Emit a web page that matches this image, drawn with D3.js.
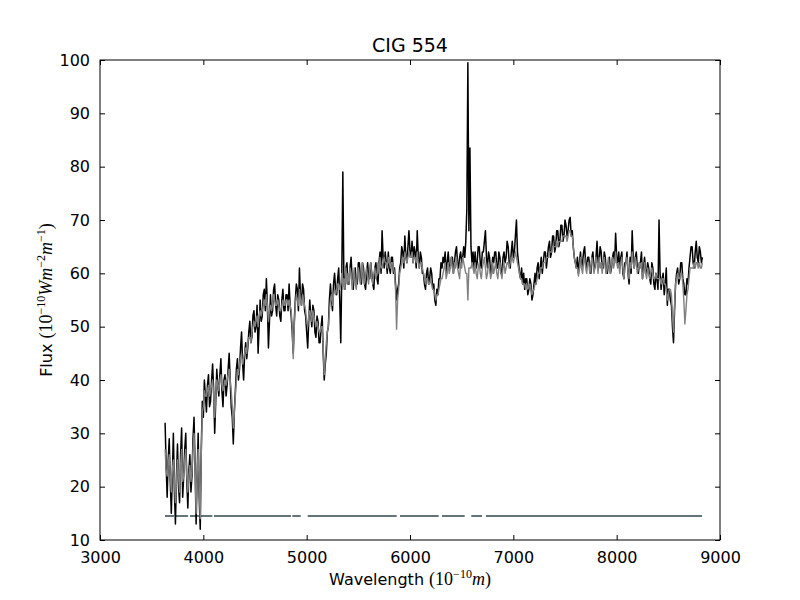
<!DOCTYPE html>
<html>
<head>
<meta charset="utf-8">
<script src="https://cdn.jsdelivr.net/npm/d3@7"></script>
<style>
  body { margin: 0; background: #fff; }
  text { font-family: "DejaVu Sans", sans-serif; fill: #000; }
  .math { font-family: "Liberation Serif", serif; }
</style>
</head>
<body>
<svg id="spectrum" width="800" height="600"></svg>
<script>
// Spectrum sampling grid (Angstrom)
const wlStart = 3630,
    wlStep = 10;

// Observed flux (black), one row per 100 A
const observed = [
    32, 24, 18, 25, 29, 21, 15, 22, 30, 19,
    13, 22, 28, 20, 17, 26, 31, 18, 22, 27,
    30, 21, 16, 23, 26, 19, 22, 29, 33, 24,
    13, 22, 30, 18, 12, 27, 36, 33, 40, 37,
    34, 39, 41, 35, 36, 40, 43, 38, 30, 36,
    42, 39, 37, 41, 44, 38, 35, 40, 41, 37,
    39, 42, 45, 40, 35, 33, 28, 34, 38, 42,
    44, 40, 42, 46, 49, 43, 40, 45, 47, 44,
    46, 49, 51, 47, 48, 52, 53, 49, 50, 54,
    45, 50, 55, 51, 52, 56, 57, 53, 59, 54,
    46, 51, 56, 52, 53, 57, 58, 54, 52, 56,
    55, 52, 51, 55, 57, 53, 53, 56, 56, 53,
    58, 54, 52, 49, 45, 51, 55, 58, 57, 53,
    61, 56, 54, 58, 57, 53, 52, 49, 46, 51,
    55, 52, 50, 54, 53, 49, 48, 52, 51, 47,
    47, 50, 52, 45, 40, 43, 45, 49, 50, 55,
    58, 55, 53, 58, 60, 57, 56, 59, 61, 55,
    47, 60, 79, 59, 57, 61, 62, 58, 58, 61,
    63, 59, 57, 60, 61, 58, 58, 62, 62, 59,
    58, 62, 61, 58, 57, 60, 62, 59, 59, 62,
    60, 58, 57, 61, 62, 59, 58, 62, 64, 60,
    68, 63, 61, 64, 62, 60, 64, 61, 60, 63,
    63, 60, 61, 58, 55, 57, 58, 61, 62, 65,
    64, 61, 67, 63, 62, 65, 68, 64, 63, 66,
    62, 65, 64, 61, 68, 63, 61, 64, 63, 60,
    60, 58, 57, 60, 61, 58, 59, 61, 60, 57,
    58, 55, 54, 57, 56, 59, 59, 62, 61, 63,
    62, 64, 60, 62, 64, 61, 61, 63, 63, 60,
    62, 64, 65, 62, 61, 63, 64, 62, 63, 65,
    63, 66, 72, 99.5, 68, 83.5, 65, 62, 64, 61,
    64, 61, 62, 65, 65, 62, 61, 64, 64, 66,
    68, 63, 61, 64, 63, 60, 60, 63, 62, 64,
    64, 61, 61, 64, 63, 60, 60, 63, 64, 62,
    63, 66, 65, 62, 61, 64, 66, 63, 64, 67,
    70, 64, 62, 60, 59, 61, 58, 60, 57, 59,
    59, 56, 57, 59, 58, 55, 56, 58, 60, 58,
    61, 62, 59, 61, 63, 60, 62, 64, 64, 61,
    63, 65, 66, 63, 64, 67, 67, 64, 65, 68,
    68, 65, 66, 69, 69, 66, 67, 70, 69, 67,
    68, 70, 70.5, 67, 68, 65, 63, 62, 61, 63,
    60, 62, 64, 61, 62, 64, 65, 62, 61, 63,
    63, 61, 60, 63, 64, 61, 61, 63, 66, 62,
    62, 65, 64, 61, 61, 64, 63, 60, 60, 62,
    63, 60, 61, 63, 64, 62, 67.5, 63, 62, 64,
    61, 63, 64, 60, 59, 62, 62, 64, 60, 58,
    63, 60, 68, 63, 61, 63, 64, 61, 60, 62,
    62, 64, 59, 61, 63, 60, 60, 62, 61, 59,
    58, 62, 61, 58, 57, 60, 59, 57, 70, 60,
    57, 59, 60, 56, 58, 61, 54, 57, 57, 55,
    54, 50, 47, 53, 58, 60, 61, 58, 59, 62,
    62, 59, 58, 56, 56, 59, 58, 61, 63, 65,
    65, 62, 61, 64, 66, 63, 62, 65, 64, 62,
    63
];

// Model flux (grey), one row per 100 A
const model = [
    27, 23, 22, 24, 26, 22, 19, 23, 25, 21,
    17, 21, 25, 22, 19, 24, 27, 21, 22, 25,
    27, 22, 19, 22, 24, 21, 23, 27, 30, 24,
    15, 22, 27, 20, 14, 26, 34, 35, 38, 37,
    37, 38, 39, 37, 38, 39, 40, 37, 33, 37,
    40, 39, 38, 40, 41, 39, 38, 39, 40, 39,
    40, 41, 42, 40, 38, 35, 31, 34, 37, 40,
    42, 41, 43, 44, 45, 43, 44, 45, 46, 45,
    47, 48, 48, 47, 49, 50, 51, 50, 51, 52,
    50, 52, 53, 52, 53, 54, 55, 54, 56, 54,
    51, 53, 54, 53, 54, 56, 55, 54, 54, 55,
    54, 53, 53, 54, 55, 54, 54, 55, 55, 54,
    55, 54, 53, 50, 44, 50, 54, 56, 55, 54,
    57, 55, 54, 56, 55, 54, 53, 51, 50, 52,
    53, 52, 51, 53, 52, 51, 50, 51, 50, 49,
    49, 50, 50, 46, 41, 44, 47, 49, 50, 53,
    55, 56, 54, 56, 57, 56, 57, 58, 58, 57,
    58, 60, 57, 59, 57, 61, 58, 60, 58, 61,
    60, 57, 59, 61, 58, 57, 60, 61, 59, 58,
    60, 62, 59, 58, 60, 61, 59, 58, 61, 62,
    59, 58, 60, 61, 59, 60, 62, 60, 63, 61,
    61, 62, 63, 62, 62, 61, 63, 62, 61, 62,
    62, 61, 60, 57, 49.5, 55, 57, 60, 61, 62,
    63, 62, 64, 63, 62, 63, 64, 63, 63, 64,
    62, 63, 63, 62, 64, 62, 61, 62, 62, 61,
    60, 59, 58, 59, 59, 58, 58, 59, 58, 57,
    57, 56, 55, 56, 56, 57, 58, 59, 59, 60,
    61, 62, 59, 60, 62, 60, 61, 63, 61, 60,
    62, 61, 63, 61, 60, 59, 62, 61, 63, 62,
    61, 60, 60, 55, 61, 61, 61, 62, 61, 60,
    62, 60, 59, 61, 62, 60, 59, 61, 62, 63,
    61, 59, 60, 62, 61, 59, 60, 62, 60, 61,
    62, 60, 59, 61, 62, 60, 59, 61, 62, 60,
    61, 62, 62, 61, 62, 63, 63, 62, 63, 64,
    63, 62, 61, 60, 59, 59, 58, 58, 58, 57,
    58, 57, 57.5, 58, 57, 56, 56.6, 57, 58, 58,
    59, 60, 60, 61, 61, 61, 62, 62, 62, 63,
    63, 63, 64, 64, 64, 65, 65, 65, 65, 66,
    65, 66, 66, 66, 66, 67, 67, 67, 67, 66,
    67, 68, 68, 67, 67, 65, 63, 62, 61, 61,
    59.5, 61, 63, 61, 60, 62, 63, 61, 60, 62,
    62, 60, 61, 63, 62, 60, 61, 63, 62, 60,
    63, 61, 62, 60, 62, 63, 61, 60, 61, 63,
    61, 60, 62, 63, 61, 62, 64, 62, 61, 62,
    60, 62, 63, 61, 59, 61, 62, 63, 60, 59,
    62, 61, 64, 62, 61, 63, 62, 60, 61, 62,
    61, 62, 59, 60, 62, 60, 59, 61, 60, 59,
    60, 61, 60, 59, 59, 60, 59, 59, 59, 59,
    58, 59, 59, 58, 58, 57, 55, 56, 57, 57,
    56, 52, 49, 54, 58, 59, 60, 59, 59, 60,
    60, 58, 55, 50.5, 53, 56, 57, 59, 61, 61,
    61, 61, 62, 61, 62, 62, 61, 62, 61, 61,
    62
];

// Fitted (unmasked) wavelength ranges, drawn as a flat line
const maskSegments = [
    [3629, 3716], [3735, 3852], [3871, 4087], [4103, 4848], [4861, 4942],
    [5010, 5871], [5903, 6278], [6310, 6529], [6593, 6697], [6735, 8826]
];
const maskLevel = 14.5;

const xTicks = [3000, 4000, 5000, 6000, 7000, 8000, 9000];
const yTicks = [10, 20, 30, 40, 50, 60, 70, 80, 90, 100];

const wavelength = observed.map((d, i) => wlStart + i * wlStep);

// SVG setup

const margin = { top: 60, right: 80, bottom: 60, left: 100 },
    width = 800 - margin.left - margin.right,
    height = 600 - margin.top - margin.bottom;

const svg = d3.select("svg#spectrum")
    .append("g")
    .attr("transform", `translate(${margin.left},${margin.top})`);

// Scale

const x = d3.scaleLinear()
    .domain([3000, 9000])
    .range([0, width]);

const y = d3.scaleLinear()
    .domain([10, 100])
    .range([height, 0]);

svg.append("clipPath")
    .attr("id", "plot-area")
    .append("rect")
    .attr("width", width)
    .attr("height", height);

const plot = svg.append("g")
    .attr("clip-path", "url(#plot-area)");

// Mask line

plot.selectAll(".mask")
    .data(maskSegments)
    .enter()
    .append("line")
    .attr("class", "mask")
    .attr("x1", d => x(d[0]))
    .attr("x2", d => x(d[1]))
    .attr("y1", y(maskLevel))
    .attr("y2", y(maskLevel))
    .attr("stroke", "#657479")
    .attr("stroke-width", 2);

// Spectra

const line = d3.line()
    .x((d, i) => x(wavelength[i]))
    .y(d => y(d));

plot.append("path")
    .datum(observed)
    .attr("fill", "none")
    .attr("stroke", "#000")
    .attr("stroke-width", 1.5)
    .attr("stroke-linejoin", "round")
    .attr("d", line);

plot.append("path")
    .datum(model)
    .attr("fill", "none")
    .attr("stroke", "#808080")
    .attr("stroke-width", 1.4)
    .attr("stroke-linejoin", "round")
    .attr("d", line);

// Axis (ticks inside, on all four sides)

const tickStyle = g => {
    g.select(".domain").remove();
    g.selectAll("text")
        .style("font-family", "DejaVu Sans, sans-serif")
        .style("font-size", "16px")
        .attr("fill", "#000");
    g.selectAll("line").attr("stroke", "#000");
};

svg.append("g")
    .attr("transform", `translate(0,${height})`)
    .call(d3.axisBottom(x).tickValues(xTicks).tickFormat(d3.format("d"))
        .tickSizeInner(-5).tickSizeOuter(0).tickPadding(12))
    .call(tickStyle);

svg.append("g")
    .call(d3.axisTop(x).tickValues(xTicks).tickFormat("")
        .tickSizeInner(-5).tickSizeOuter(0))
    .call(tickStyle);

svg.append("g")
    .call(d3.axisLeft(y).tickValues(yTicks).tickFormat(d3.format("d"))
        .tickSizeInner(-5).tickSizeOuter(0).tickPadding(10))
    .call(tickStyle);

svg.append("g")
    .attr("transform", `translate(${width},0)`)
    .call(d3.axisRight(y).tickValues(yTicks).tickFormat("")
        .tickSizeInner(-5).tickSizeOuter(0))
    .call(tickStyle);

// Frame

svg.append("rect")
    .attr("width", width)
    .attr("height", height)
    .attr("fill", "none")
    .attr("stroke", "#000")
    .attr("stroke-width", 1);

// Title

svg.append("text")
    .attr("x", width / 2)
    .attr("y", -8)
    .attr("text-anchor", "middle")
    .style("font-size", "19px")
    .text("CIG 554");

// Axis labels with math parts

function mathLabel(sel, parts) {
    parts.forEach(p => {
        const t = sel.append("tspan").text(p.t);
        if (p.cls) t.attr("class", p.cls);
        if (p.it) t.style("font-style", "italic");
        if (p.sup) t.attr("dy", -7).style("font-size", "12px");
        if (p.down) t.attr("dy", 7);
        if (p.size) t.style("font-size", p.size);
    });
}

const xLabel = svg.append("text")
    .attr("x", width / 2)
    .attr("y", height + 45)
    .attr("text-anchor", "middle")
    .style("font-size", "16px");

mathLabel(xLabel, [
    { t: "Wavelength " },
    { t: "(10", cls: "math", size: "18px" },
    { t: "\u221210", cls: "math", sup: true },
    { t: "m", cls: "math", it: true, down: true, size: "18px" },
    { t: ")", cls: "math", size: "18px" }
]);

const yLabel = svg.append("text")
    .attr("transform", `translate(-48,${height / 2}) rotate(-90)`)
    .attr("text-anchor", "middle")
    .style("font-size", "16px");

mathLabel(yLabel, [
    { t: "Flux " },
    { t: "(10", cls: "math", size: "18px" },
    { t: "\u221210", cls: "math", sup: true },
    { t: "Wm", cls: "math", it: true, down: true, size: "18px" },
    { t: "\u22122", cls: "math", sup: true },
    { t: "m", cls: "math", it: true, down: true, size: "18px" },
    { t: "\u22121", cls: "math", sup: true },
    { t: ")", cls: "math", down: true, size: "18px" }
]);
</script>
</body>
</html>
